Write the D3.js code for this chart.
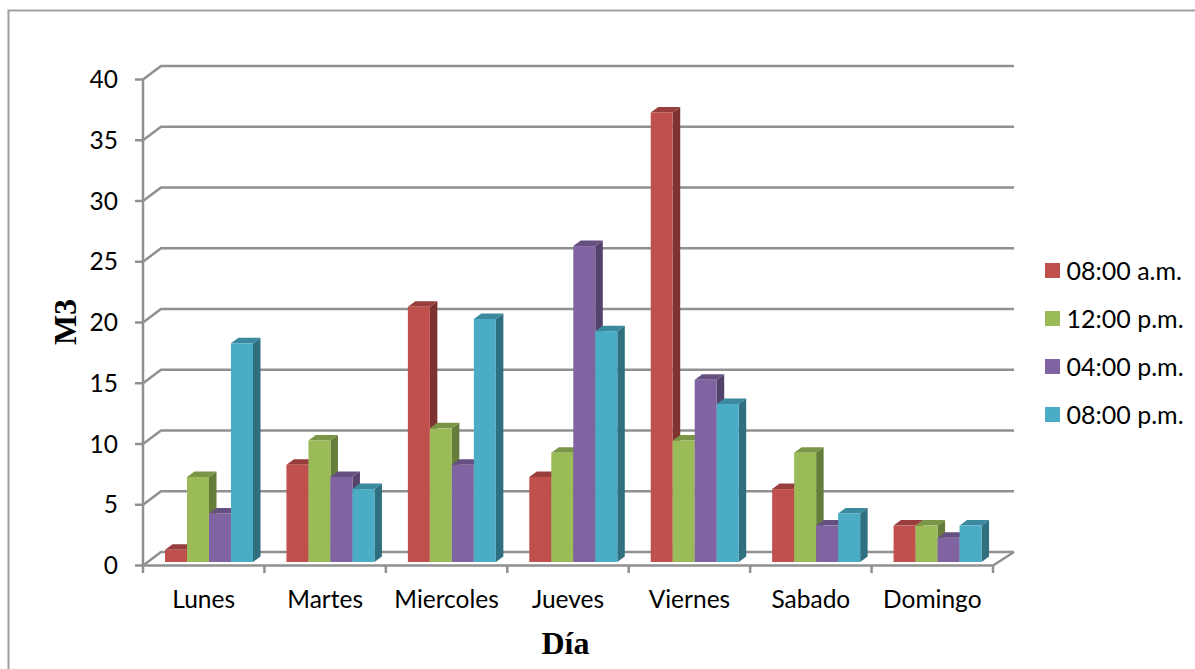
<!DOCTYPE html>
<html lang="es">
<head>
<meta charset="utf-8">
<title>M3 por día</title>
<script src="https://cdn.jsdelivr.net/npm/d3@7"></script>
<style>
  html, body { margin: 0; padding: 0; background: #fff; overflow: hidden; }
  svg { display: block; }
</style>
</head>
<body>
<svg id="chart" width="1195" height="669"></svg>
<script>
// Weekdays and the volume measured at each hour of the day
const dias = ["Lunes", "Martes", "Miercoles", "Jueves", "Viernes", "Sabado", "Domingo"];
const horas = ["08:00 a.m.", "12:00 p.m.", "04:00 p.m.", "08:00 p.m."];
const manana = [1, 8, 21, 7, 37, 6, 3];
const mediodia = [7, 10, 11, 9, 10, 9, 3];
const tarde = [4, 7, 8, 26, 15, 3, 2];
const noche = [18, 6, 20, 19, 13, 4, 3];
const marcas = [0, 5, 10, 15, 20, 25, 30, 35, 40];

const series = [manana, mediodia, tarde, noche];
const frente = ["#c0504d", "#9bbb59", "#8064a2", "#4bacc6"];
const lateral = ["#7f3331", "#667c3a", "#54426c", "#2f6f80"];
const techo = ["#983f3d", "#7b9546", "#665081", "#3b899e"];

const svg = d3.select("#chart");
const gris = "#909090";

// Outer frame of the chart area, open past the bottom edge
svg.append("path")
  .attr("d", d3.line()([[8.5, 680], [8.5, 10.5], [1195, 10.5]]))
  .attr("fill", "none").attr("stroke", "#a0a0a0").attr("stroke-width", 2);

// Front plane of the 3D box, with the back plane offset up and to the right
const x0 = d3.scaleBand().domain(dias).range([143, 993]);
const yFrente = d3.scaleLinear().domain([0, 40]).range([565.5, 79.5]);
const yFondo = d3.scaleLinear().domain([0, 40]).range([552, 66]);
const yBarra = d3.scaleLinear().domain([0, 40]).range([562, 76]);
const x1 = d3.scaleBand().domain(d3.range(horas.length))
  .range([22, 22 + 88]);

const fondoX0 = 161, fondoX1 = 1014;
const caja = svg.append("g")
  .attr("fill", "none").attr("stroke", gris).attr("stroke-width", 2.5);

// Back gridlines and their links to the left wall
marcas.forEach(v => {
  caja.append("path").attr("d", d3.line()([
    [143, yFrente(v)], [fondoX0, yFondo(v)], [fondoX1, yFondo(v)]
  ]));
});

// Floor edges and the front axes
caja.append("path").attr("d", d3.line()([
  [143, yFrente(0)], [993, yFrente(0)], [fondoX1, yFondo(0)]
]));
caja.append("path").attr("d", d3.line()([
  [143, yFrente(0)], [143, yFrente(40)]
]));

// Tick marks on both axes
marcas.forEach(v => {
  caja.append("path").attr("d", d3.line()([[135, yFrente(v)], [143, yFrente(v)]]));
});
[...dias.map(d => x0(d)), 993].forEach(x => {
  caja.append("path").attr("d", d3.line()([[x, yFrente(0)], [x, 573]]));
});

// Bars drawn as three faces: side, top, front
const hondo = 7.5, alza = 5.5;
const grupos = svg.append("g").selectAll("g").data(dias).join("g")
  .attr("transform", d => `translate(${x0(d)},0)`);

series.forEach((valores, s) => {
  const ancho = x1.bandwidth();
  const izq = x1(s);
  const g = grupos.append("g");
  g.append("path").attr("fill", lateral[s]).attr("d", (d, i) => {
    const top = yBarra(valores[i]), base = yBarra(0), r = izq + ancho;
    return d3.line()([[r, top], [r + hondo, top - alza], [r + hondo, base - alza], [r, base]]) + "Z";
  });
  g.append("path").attr("fill", techo[s]).attr("d", (d, i) => {
    const top = yBarra(valores[i]), r = izq + ancho;
    return d3.line()([[izq, top], [izq + hondo, top - alza], [r + hondo, top - alza], [r, top]]) + "Z";
  });
  g.append("rect").attr("fill", frente[s])
    .attr("x", izq).attr("width", ancho)
    .attr("y", (d, i) => yBarra(valores[i]))
    .attr("height", (d, i) => yBarra(0) - yBarra(valores[i]));
});

// Axis labels
const texto = "Lato, Carlito, 'Open Sans', sans-serif";
svg.append("g").selectAll("text").data(marcas).join("text")
  .attr("x", 118).attr("y", d => yFrente(d) + 8.5)
  .attr("text-anchor", "end")
  .attr("font-family", texto).attr("font-size", 24.5).attr("fill", "#000")
  .text(d => d);

svg.append("g").selectAll("text").data(dias).join("text")
  .attr("x", d => x0(d) + x0.bandwidth() / 2).attr("y", 607.5)
  .attr("text-anchor", "middle")
  .attr("font-family", texto).attr("font-size", 24.5).attr("fill", "#000")
  .text(d => d);

// Axis titles
svg.append("text")
  .attr("x", 565.5).attr("y", 654).attr("text-anchor", "middle")
  .attr("font-family", "'Liberation Serif', serif").attr("font-weight", "bold")
  .attr("font-size", 32).text("Día");
svg.append("text")
  .attr("transform", "translate(76,322) rotate(-90)").attr("text-anchor", "middle")
  .attr("font-family", "'Liberation Serif', serif").attr("font-weight", "bold")
  .attr("font-size", 32).text("M3");

// Legend
const leyenda = svg.append("g").selectAll("g").data(horas).join("g")
  .attr("transform", (d, i) => `translate(1045,${263 + i * 48})`);
leyenda.append("rect").attr("width", 15).attr("height", 15)
  .attr("fill", (d, i) => frente[i]);
leyenda.append("text").attr("x", 21.5).attr("y", 17)
  .attr("font-family", texto).attr("font-size", 25).attr("fill", "#000")
  .text(d => d);
</script>
</body>
</html>
